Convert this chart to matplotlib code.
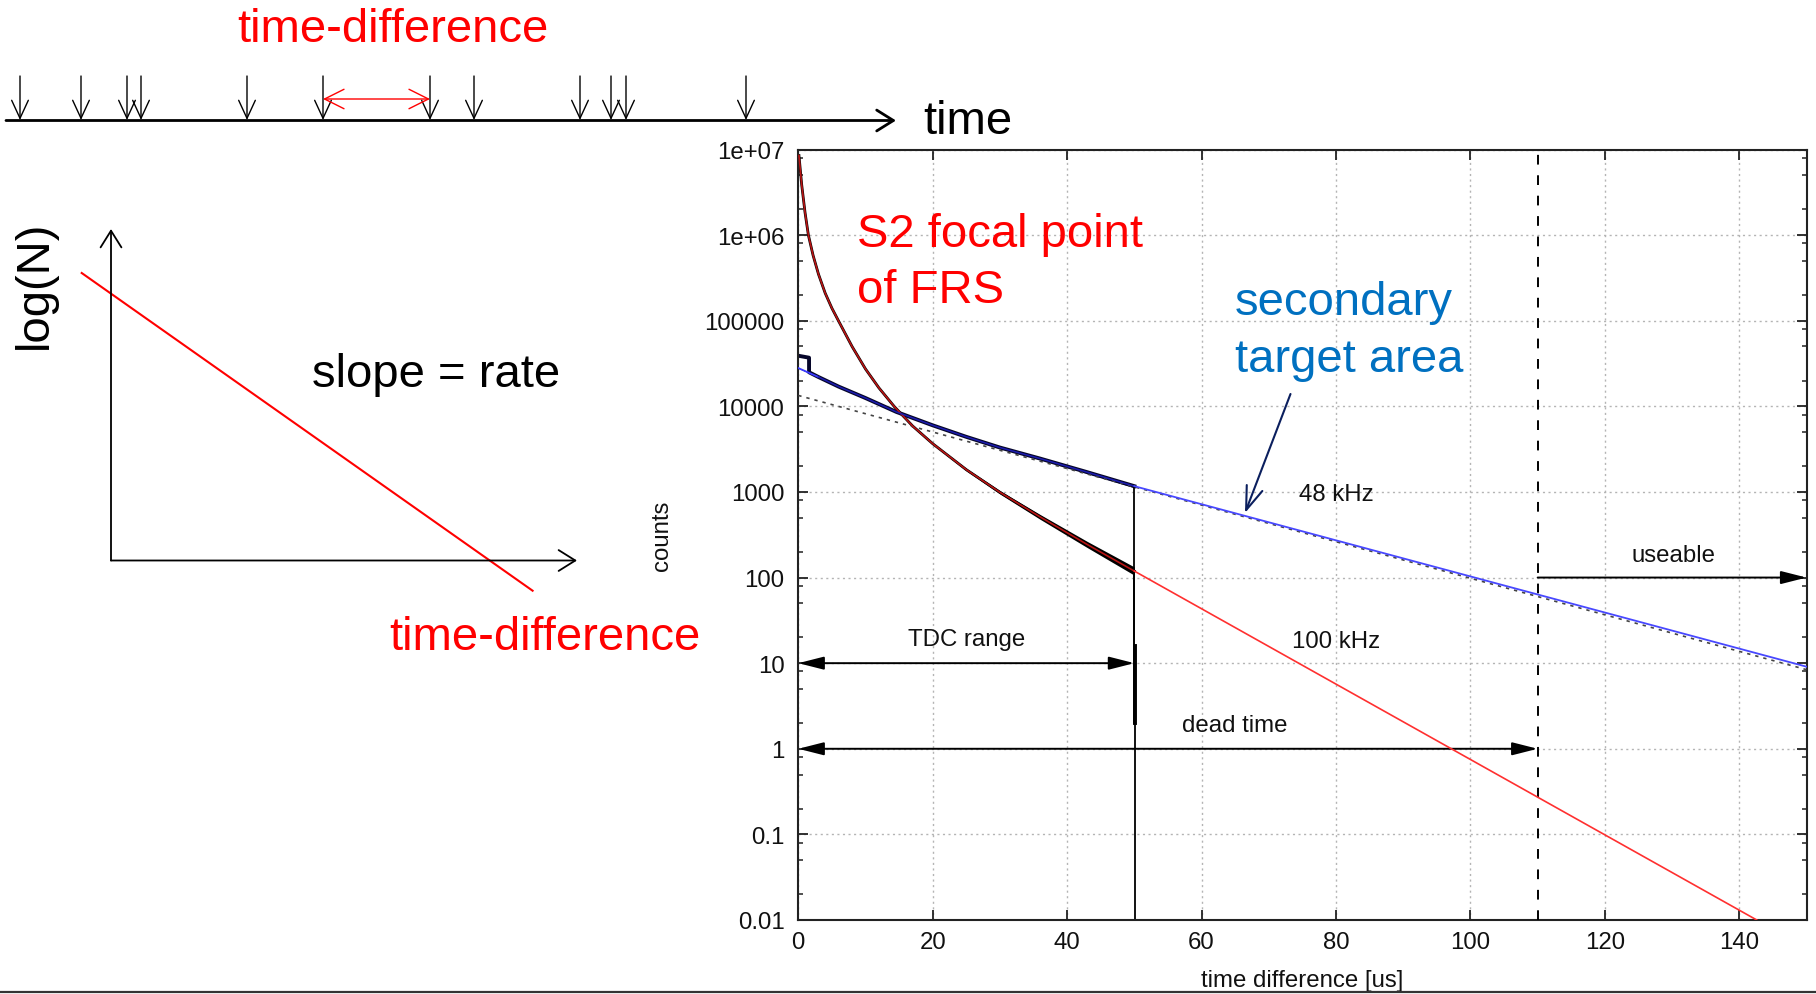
import numpy as np
import matplotlib
matplotlib.use('Agg')
import matplotlib.pyplot as plt
from matplotlib.ticker import FixedLocator, LogLocator, NullFormatter, NullLocator

plt.rcParams['font.family'] = ['Liberation Sans', 'DejaVu Sans']

W, H = 1816, 995

# S2 focal point of FRS: fit through the spectrum [us, counts]
s2_t = [0.1, 0.5, 1.0, 1.5, 2.2, 3.0, 4.0, 5.0, 6.0, 8.0, 10, 12, 14.3, 17, 20, 25,
        30, 36, 43, 50]
s2_n = [8.5e6, 3.9e6, 1.84e6, 1.0e6, 5.8e5, 3.5e5, 2.1e5, 1.4e5, 9.9e4, 5.0e4, 2.73e4,
        1.64e4, 9.9e3, 5.9e3, 3.66e3, 1.82e3, 990, 510, 243, 119]
# spread of the measured counts around the fit (decades)
s2_spread = [0.003, 0.003, 0.003, 0.003, 0.003, 0.003, 0.003, 0.003, 0.004, 0.004, 0.005,
             0.006, 0.007, 0.008, 0.010, 0.014, 0.020, 0.028, 0.036, 0.048]
# 100 kHz extrapolation beyond the TDC range
s2_tail_t = [50, 142.6]
s2_tail_n = [119, 0.01]
# drop of the histogram at the end of the TDC range
s2_drop_t = [49.9, 49.9]
s2_drop_n = [119, 16]
s2_step_t = [50.15, 50.15]
s2_step_n = [16, 2.0]

# secondary target area: fit and 48 kHz extrapolation
sec_t = [0, 3, 6, 10, 14.6, 20, 25, 30, 36, 43, 50, 150]
sec_n = [28000, 22000, 17000, 12500, 8600, 6000, 4400, 3300, 2450, 1700, 1168, 9.1]
sec_spread = [0.004, 0.004, 0.004, 0.005, 0.005, 0.006, 0.007, 0.008, 0.010, 0.013, 0.018]
sec_start_t = [0, 1.6, 1.6]
sec_start_n = [39000, 37000, 25000]
sec_end_t = [49.9, 49.9, 50.15, 50.15]
sec_end_n = [1168, 2.0, 2.0, 1e-3]
# single exponential, dotted
exp_t = [0, 150]
exp_n = [13400, 8.4]

ytick_vals = [0.01, 0.1, 1, 10, 100, 1000, 1e4, 1e5, 1e6, 1e7]
ytick_labels = ['0.01', '0.1', '1', '10', '100', '1000', '10000', '100000', '1e+06', '1e+07']
xtick_vals = [0, 20, 40, 60, 80, 100, 120, 140]

# event times on the sketched time axis
hits = [20, 81, 127, 141, 247, 323, 430, 474, 580, 611, 626, 746]

fig = plt.figure(figsize=(W / 100, H / 100), dpi=100)

ax = fig.add_axes([798.3 / W, 1 - 921 / H, (1806.5 - 798.3) / W, (921 - 150.5) / H])
ax.set_yscale('log')
ax.set_xlim(0, 150)
ax.set_ylim(0.01, 1e7)
ax.set_axisbelow(True)
ax.grid(True, which='major', color='#b4b4b4', ls=(0, (1.5, 2.5)), lw=1.0)

gp_size = 17.3
ax.xaxis.set_major_locator(FixedLocator(xtick_vals))
ax.xaxis.set_minor_locator(NullLocator())
ax.yaxis.set_major_locator(FixedLocator(ytick_vals))
ax.set_yticklabels(ytick_labels)
ax.yaxis.set_minor_locator(LogLocator(base=10, subs=(2, 5, 8), numticks=20))
ax.yaxis.set_minor_formatter(NullFormatter())
ax.tick_params(which='both', direction='in', top=True, right=True, colors='#222222',
               labelcolor='#111111', labelsize=gp_size)
ax.tick_params(which='major', length=7.2, width=1.3)
ax.tick_params(axis='x', pad=8)
ax.tick_params(axis='y', pad=10)
ax.tick_params(which='minor', length=3.6, width=1.1)
for sp in ax.spines.values():
    sp.set_linewidth(1.5)
    sp.set_color('#222222')

# measured histograms (black, with their scatter)
s2_t_a = np.array(s2_t)
s2_n_a = np.array(s2_n)
s2_sp = 10 ** np.array(s2_spread)
ax.fill_between(s2_t_a, s2_n_a / s2_sp, s2_n_a * s2_sp, color='black', lw=0, zorder=2)
ax.plot(s2_t, s2_n, color='black', lw=2.0, zorder=2)
ax.plot(s2_drop_t, s2_drop_n, color='black', lw=1.3, zorder=2)
ax.plot(s2_step_t, s2_step_n, color='black', lw=2.8, zorder=2)

sec_t_a = np.array(sec_t[:-1])
sec_n_a = np.array(sec_n[:-1])
sec_sp = 10 ** np.array(sec_spread)
ax.fill_between(sec_t_a, sec_n_a / sec_sp, sec_n_a * sec_sp, color='#080838', lw=0, zorder=2)
ax.plot(sec_start_t + sec_t[1:-1], sec_start_n + sec_n[1:-1], color='#06062a', lw=2.8, zorder=2)
ax.plot(sec_end_t, sec_end_n, color='black', lw=1.3, zorder=2)

# fits
ax.plot(exp_t, exp_n, color='#444444', ls=(0, (2, 3)), lw=1.2, zorder=3)
ax.plot(s2_t, s2_n, color='#b81414', lw=1.2, zorder=4)
ax.plot(s2_tail_t, s2_tail_n, color='#ff3030', lw=1.2, zorder=4)
ax.plot(sec_t[:2], sec_n[:2], color='#3a3aff', lw=1.3, zorder=4)
ax.plot(sec_t[1:-1], sec_n[1:-1], color='#1c1cb0', lw=1.1, zorder=4)
ax.plot(sec_t[-2:], sec_n[-2:], color='#4848ff', lw=1.3, zorder=4)

ax.axvline(110, color='black', ls=(0, (5, 5.5)), lw=1.4, zorder=3)

def harrow(x0, x1, y, style):
    ax.annotate('', xy=(x1, y), xytext=(x0, y), annotation_clip=False,
                arrowprops=dict(arrowstyle=style, color='black', lw=1.4,
                                shrinkA=0, shrinkB=0, mutation_scale=12))

both = '<|-|>,head_length=1.3,head_width=0.33'
harrow(0, 50, 10, both)
harrow(0, 110, 1, both)
harrow(110, 150, 100, '-|>,head_length=1.3,head_width=0.33')

gp = dict(fontsize=gp_size, color='#111111', ha='center', va='baseline')
ax.text(80, 796, '48 kHz', **gp)
ax.text(80, 15.5, '100 kHz', **gp)
ax.text(25, 16.1, 'TDC range', **gp)
ax.text(65, 1.6, 'dead time', **gp)
ax.text(130.2, 156, 'useable', **gp)

ax.set_xlabel('time difference [us]', fontsize=gp_size, color='#111111')
ax.xaxis.set_label_coords(0.5, -0.064)
ax.set_ylabel('counts', fontsize=gp_size, color='#111111')
ax.yaxis.set_label_coords(-0.124, 0.5)

# sketch layer in pixel units
ov = fig.add_axes([0, 0, 1, 1], zorder=10)
ov.set_xlim(0, W)
ov.set_ylim(H, 0)
ov.axis('off')

def arrow(p_from, p_to, style, color='black', lw=1.2):
    ov.annotate('', xy=p_to, xytext=p_from, annotation_clip=False,
                arrowprops=dict(arrowstyle=style, color=color, lw=lw,
                                shrinkA=0, shrinkB=0, mutation_scale=10))

# time axis with hits
arrow((6, 121.5), (896, 121.5), '->,head_length=1.2,head_width=0.75', lw=2.0)
for h in hits:
    arrow((h, 77), (h, 121), '->,head_length=1.3,head_width=0.6', lw=1.0)
arrow((hits[5], 100), (hits[6], 100), '<->,head_length=1.4,head_width=0.7', color='#ff0000', lw=1.0)

big = dict(fontsize=34, va='baseline', ha='left')
ov.text(237.5, 42, 'time-difference', color='#ff0000', **big)
ov.text(923, 134, 'time', color='black', **big)

# log(N) vs time-difference sketch
arrow((111, 561.5), (111, 230), '->,head_length=1.2,head_width=0.75', lw=1.3)
arrow((111, 561.5), (577, 561.5), '->,head_length=1.2,head_width=0.75', lw=1.3)
ov.plot([81.7, 532.6], [274, 591.7], color='#ff0000', lw=1.5)
ov.text(35, 285, 'log(N)', fontsize=34, rotation=90, ha='center', va='center')
ov.text(312, 387, 'slope = rate', color='black', **big)
ov.text(389, 650, 'time-difference', color='#ff0000', **big)

# annotations on the spectrum
ov.text(857, 247, 'S2 focal point', color='#ff0000', **big)
ov.text(857, 303, 'of FRS', color='#ff0000', **big)
ov.text(1235, 315, 'secondary', color='#0070c0', **big)
ov.text(1235, 372, 'target area', color='#0070c0', **big)
arrow((1290.5, 395), (1245, 514), '->,head_length=1.7,head_width=0.6', color='#0b1f5e', lw=1.5)

ov.plot([0, W], [993, 993], color='#333333', lw=1.6)

fig.savefig('out.png', dpi=100)
